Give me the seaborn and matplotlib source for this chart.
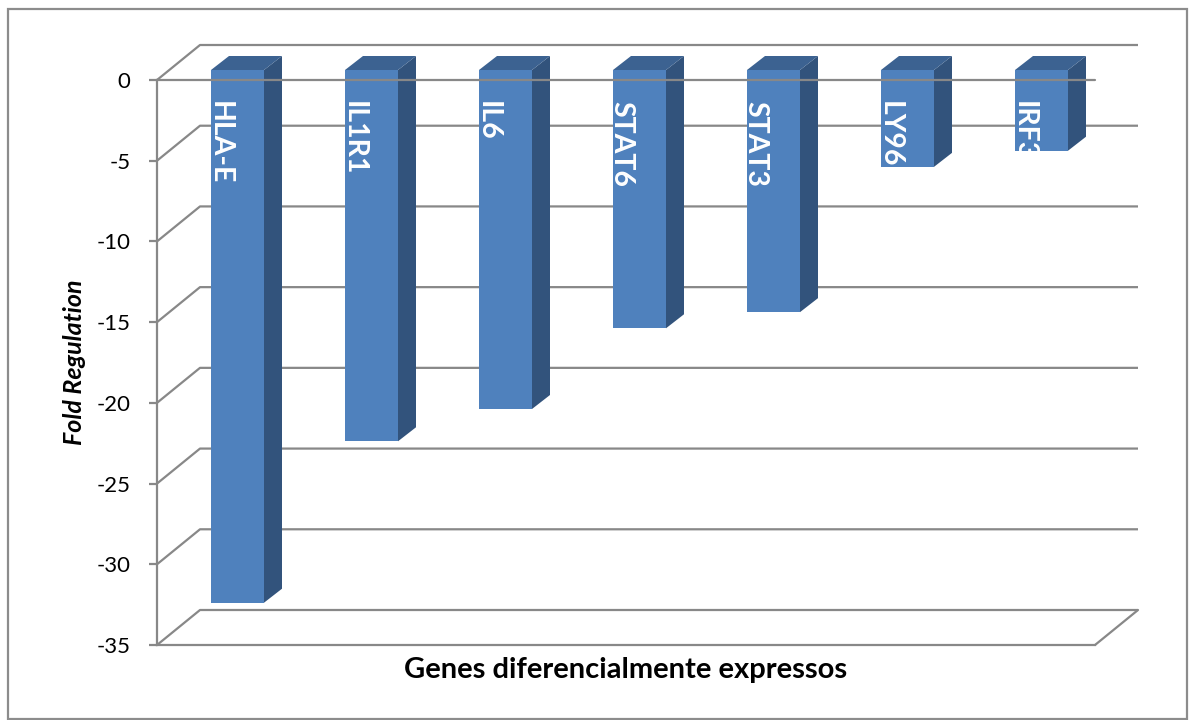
import matplotlib
matplotlib.use("Agg")
import matplotlib.pyplot as plt
from matplotlib.patches import Polygon, Rectangle
from matplotlib.transforms import Affine2D
import seaborn as sns
import pandas as pd

# Data
genes = ["HLA-E", "IL1R1", "IL6", "STAT6", "STAT3", "LY96", "IRF3"]
fold_regulation = [-33, -23, -21, -16, -15, -6, -5]
y_ticks = [0, -5, -10, -15, -20, -25, -30, -35]

FRONT = "#4F81BD"
SIDE = "#32537C"
TOP = "#3C6291"
GRID = "#888888"

sns.set_theme(style="white")
plt.rcParams["font.family"] = ["Lato", "DejaVu Sans"]

W, H = 1189, 720
fig = plt.figure(figsize=(W / 100, H / 100), dpi=100)

# front plane of the plot box, in pixels
L, R, T, B = 157, 1095, 80, 645
ax = fig.add_axes([L / W, 1 - B / H, (R - L) / W, (B - T) / H])

ymin, ymax = -35, 0
ncat = len(genes)
px_x = (R - L) / ncat            # pixels per category
px_y = (B - T) / (ymax - ymin)    # pixels per unit


def cx(px):
    return px / px_x


def cy(px):
    return px / px_y


# depth of the box (back wall offset) and of each column
DX, DY = cx(43), cy(35)
ox, oy = cx(13.5), cy(10)        # front face of the columns
sdx, sdy = cx(18), cy(14)        # column depth

df = pd.DataFrame({"gene": genes, "fold": fold_regulation})
sns.barplot(data=df, x="gene", y="fold", order=genes, width=cx(53),
            color=FRONT, saturation=1, edgecolor="none", linewidth=0,
            ax=ax, zorder=3)

ax.set_xlim(-0.5, ncat - 0.5)
ax.set_ylim(ymin, ymax)

x0, x1 = -0.5, ncat - 0.5

# side wall and back wall gridlines
for v in y_ticks:
    ax.plot([x0, x0 + DX, x1 + DX], [v, v + DY, v + DY], color=GRID,
            lw=1.6, clip_on=False, zorder=1, solid_capstyle="butt")

# floor outline (right edge) and front edge at zero
ax.plot([x1, x1 + DX], [ymin, ymin + DY], color=GRID, lw=1.6,
        clip_on=False, zorder=1)
ax.plot([x0, x1], [0, 0], color=GRID, lw=1.6, clip_on=False, zorder=6)

shift = Affine2D().translate(ox, oy) + ax.transData
for patch, gene in zip(ax.patches, genes):
    patch.set_transform(shift)
    patch.set_clip_on(False)
    xl = patch.get_x() + ox
    xr = xl + patch.get_width()
    yt = patch.get_y() + oy
    yb = yt + patch.get_height()
    if yb > yt:
        yt, yb = yb, yt
    side = Polygon([(xr, yt), (xr + sdx, yt + sdy), (xr + sdx, yb + sdy), (xr, yb)],
                   closed=True, facecolor=SIDE, edgecolor="none",
                   clip_on=False, zorder=3)
    top = Polygon([(xl, yt), (xl + sdx, yt + sdy), (xr + sdx, yt + sdy), (xr, yt)],
                  closed=True, facecolor=TOP, edgecolor="none",
                  clip_on=False, zorder=3)
    ax.add_patch(side)
    ax.add_patch(top)
    txt = ax.text(xl + cx(0.5), yt - cy(31), gene, rotation=-90,
                  rotation_mode="anchor", ha="left", va="baseline",
                  color="white", fontsize=20.5, fontweight="bold", zorder=5)
    txt.set_clip_path(patch)

# axes styling
for s in ["top", "right"]:
    ax.spines[s].set_visible(False)
for s in ["left", "bottom"]:
    ax.spines[s].set_color(GRID)
    ax.spines[s].set_linewidth(1.6)
    ax.spines[s].set_zorder(1)
ax.set_yticks(y_ticks)
ax.set_yticklabels([str(t) for t in y_ticks])
ax.set_xticks([])
ax.tick_params(axis="y", which="major", direction="out", length=6,
               width=1.6, color=GRID, labelsize=16, labelcolor="black",
               pad=13, left=True)
ax.set_facecolor("none")

ax.set_xlabel("Genes diferencialmente expressos", fontsize=21,
              fontweight="bold", color="black")
ax.xaxis.set_label_coords(0.5, (B - 670) / (B - T))
ax.xaxis.label.set_va("center")
ax.set_ylabel("Fold Regulation", fontsize=18, fontweight="bold",
              fontstyle="italic", color="black")
ax.yaxis.set_label_coords((75 - L) / (R - L), 0.5)
ax.yaxis.label.set_va("center")

# chart border
fig.add_artist(Rectangle((7.5 / W, 1 - 719 / H), (1186.5 - 7.5) / W,
                         (719 - 9) / H, transform=fig.transFigure,
                         fill=False, edgecolor="#8C8C8C", lw=1.6))

fig.savefig("out.png", dpi=100, facecolor="white")
